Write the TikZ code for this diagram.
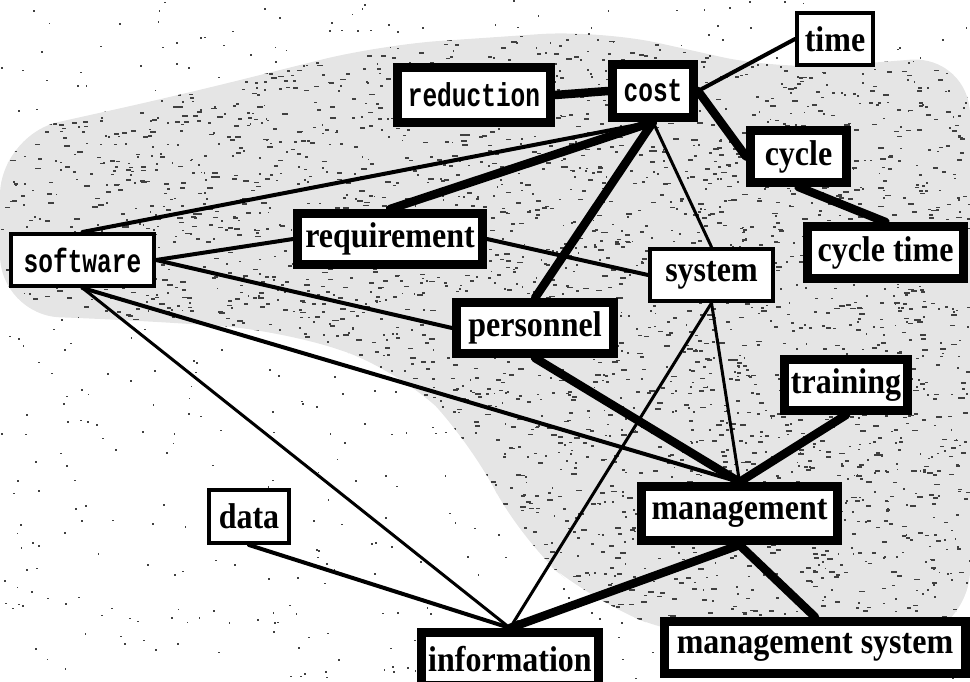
\documentclass[tikz,border=0pt]{standalone}
\usepackage{fontspec}
\setmainfont{Liberation Serif}
\newfontfamily\typefont{Liberation Mono}
\pgfdeclarelayer{shade}
\pgfdeclarelayer{lines}
\pgfsetlayers{shade,lines,main}

% tall lettering for the two label faces
\newcommand\serifword[1]{\scalebox{1}[1.12]{#1}}
\newcommand\monoword[1]{\scalebox{1}[1.35]{#1}}

\tikzset{
  concept/.style={draw=black, fill=white, rectangle, inner sep=0pt,
    font=\fontsize{32}{32}\selectfont\bfseries},
  heavybox/.style={concept, line width=9pt},
  lightbox/.style={concept, line width=4pt},
  mono/.style={font=\fontsize{24.5}{24.5}\typefont\bfseries},
  link/.style={line cap=round, line width=#1},
  link/.default=3pt,
  strong/.style={link=8.5pt},
  medium/.style={link=4pt},
  weak/.style={link=3pt},
  grain/.style={black!75}
}

% outline of the halftone backdrop
\newcommand\backdrop{%
  (0,135) -- (180,95) -- (380,45) -- (600,30) -- (780,70) -- (970,55)
  -- (970,630) -- (860,650) -- (690,640) -- (590,600) -- (520,540)
  -- (470,440) -- (400,370) -- (280,330) -- (130,320) -- (0,315) -- cycle}

\begin{document}
\begin{tikzpicture}[x=1pt, y=-1pt]
  \useasboundingbox (0,0) rectangle (970,681);

  % concept boxes (centres and outer sizes in pt)
  \node[lightbox, minimum width=76pt, minimum height=52pt] (time) at (835,39) {\serifword{time}};
  \node[heavybox, mono, minimum width=153pt, minimum height=55pt] (reduction) at (474,95) {\monoword{reduction}};
  \node[heavybox, mono, minimum width=81pt, minimum height=53pt] (cost) at (653,91) {\monoword{cost}};
  \node[heavybox, minimum width=96pt, minimum height=52pt] (cycle) at (798.5,156.5) {\serifword{cycle}};
  \node[heavybox, minimum width=156pt, minimum height=52pt] (cycletime) at (885.5,252.5) {\serifword{cycle time}};
  \node[lightbox, mono, minimum width=143pt, minimum height=52pt] (software) at (82.5,260) {\monoword{software}};
  \node[heavybox, minimum width=185pt, minimum height=51pt] (requirement) at (390,239) {\serifword{requirement}};
  \node[lightbox, minimum width=123pt, minimum height=52pt] (system) at (711.5,275) {\serifword{system}};
  \node[heavybox, minimum width=157pt, minimum height=51pt] (personnel) at (535,328) {\serifword{personnel}};
  \node[heavybox, minimum width=123pt, minimum height=51pt] (training) at (846,385) {\serifword{training}};
  \node[heavybox, minimum width=196pt, minimum height=54pt] (management) at (739.5,513.5) {\serifword{management}};
  \node[heavybox, minimum width=301pt, minimum height=52pt] (mgmtsystem) at (815,647.5) {\serifword{management system}};
  \node[heavybox, minimum width=177pt, minimum height=53pt] (information) at (510,659) {\serifword{information}};
  \node[lightbox, minimum width=80pt, minimum height=53pt] (data) at (249,516.5) {\serifword{data}};

  % halftone backdrop: light tone with dense grain, sparse grain elsewhere
  \begin{pgfonlayer}{shade}
    \pgfmathsetseed{4711}
    \begin{scope}
      \clip[rounded corners=60pt] \backdrop;
      \fill[black!10] (0,0) rectangle (970,681);
      \foreach \i in {1,...,3800} {
        \pgfmathsetmacro\px{rnd*970}
        \pgfmathsetmacro\py{25+rnd*630}
        \pgfmathsetmacro\pl{1.5+rnd*4.5}
        \fill[grain] (\px,\py) rectangle ++(\pl,1.7);
      }
    \end{scope}
    \foreach \i in {1,...,700} {
      \pgfmathsetmacro\px{rnd*970}
      \pgfmathsetmacro\py{rnd*681}
      \fill[grain] (\px,\py) rectangle ++(1.8,1.6);
    }
  \end{pgfonlayer}

  % links between concepts
  \begin{pgfonlayer}{lines}
    \draw[strong] (reduction.east) -- (cost.west);
    \draw[medium] (cost.east) -- (time.west);
    \draw[strong] (cost.east) -- (cycle.west);
    \draw[strong] (cycle.south) -- (cycletime.north);
    \draw[strong] (cost.south) -- (requirement.north);
    \draw[medium] (cost.south) -- (software.north);
    \draw[strong] (cost.south) -- (personnel.north);
    \draw[weak]   (cost.south) -- (system.north);
    \draw[medium] (software.east) -- (requirement.west);
    \draw[medium] (software.east) -- (personnel.west);
    \draw[medium] (requirement.east) -- (system.west);
    \draw[medium] (software.south) -- (management.north);
    \draw[weak]   (software.south) -- (information.north);
    \draw[weak]   (system.south) -- (management.north);
    \draw[weak]   (system.south) -- (information.north);
    \draw[strong] (personnel.south) -- (management.north);
    \draw[strong] (training.south) -- (management.north);
    \draw[strong] (management.south) -- (information.north);
    \draw[strong] (management.south) -- (mgmtsystem.north);
    \draw[medium] (data.south) -- (information.north);
  \end{pgfonlayer}
\end{tikzpicture}
\end{document}
